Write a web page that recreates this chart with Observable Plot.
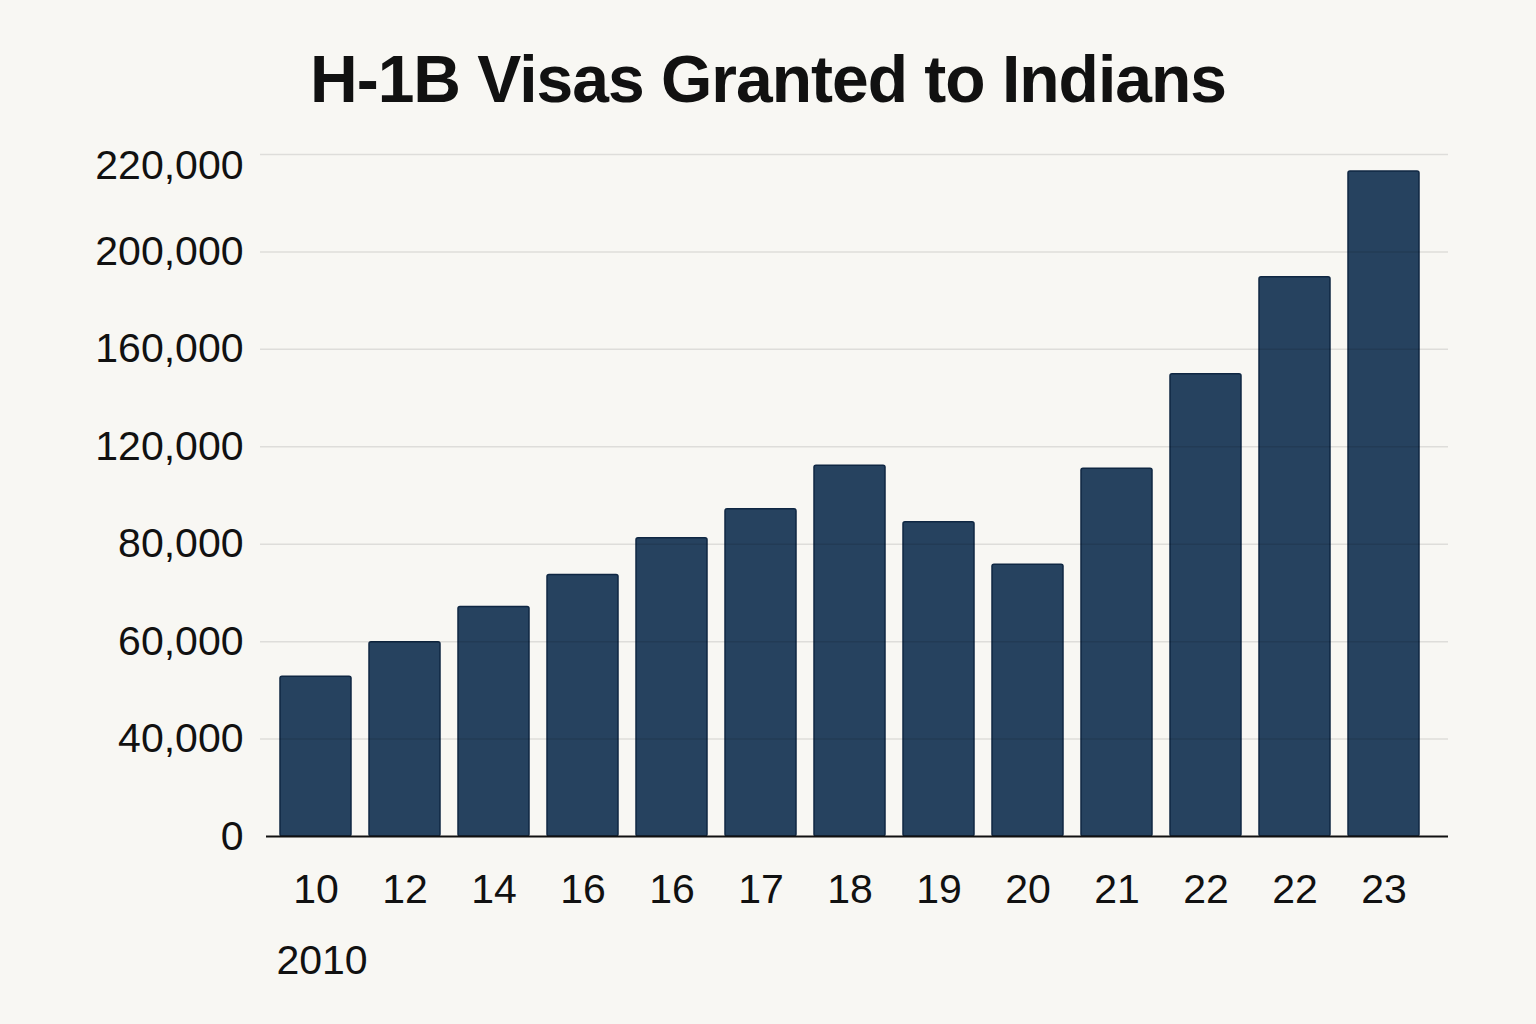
<!DOCTYPE html>
<html>
<head>
<meta charset="utf-8">
<script src="https://cdn.jsdelivr.net/npm/d3@7"></script>
<script src="https://cdn.jsdelivr.net/npm/@observablehq/plot@0.6"></script>
<style>
  html, body { margin: 0; padding: 0; background: #f8f7f3; }
  body { width: 1536px; height: 1024px; overflow: hidden; font-family: "Liberation Sans", Arial, sans-serif; }
  #title { box-sizing: border-box; height: 125px; padding-top: 46px; text-align: center;
           font-size: 66px; line-height: 1; font-weight: 700; letter-spacing: -1px; color: #111; }
  #chart svg { display: block; }
</style>
</head>
<body>
<div id="title">H-1B Visas Granted to Indians</div>
<div id="chart"></div>
<script>
// Data
const xLabels = ["10", "12", "14", "16", "16", "17", "18", "19", "20", "21", "22", "22", "23"];
const values = [52800, 59900, 67100, 73700, 82400, 94400, 112200, 89000, 75800, 111000, 149800, 189600, 216500];
const yTicks = [0, 40000, 60000, 80000, 120000, 160000, 200000, 220000];
const firstYearLabel = ["2010"];

const data = values.map((v, i) => ({i, label: xLabels[i], value: v}));

const W = 1536, H = 899;
const mTop = 29, mBottom = 188, mLeft = 260, mRight = 88;
// evenly spaced tick positions (the reference axis spaces its labels evenly)
const yRange = yTicks.map((_, k) => (H - mBottom) - k * ((H - mBottom - mTop) / (yTicks.length - 1)));

const plot = Plot.plot({
  width: W,
  height: H,
  marginTop: mTop,
  marginBottom: mBottom,
  marginLeft: mLeft,
  marginRight: mRight,
  style: {background: "#f8f7f3", fontFamily: "Liberation Sans, Arial, sans-serif", fontSize: "41px", color: "#111"},
  x: {type: "band", domain: d3.range(xLabels.length), paddingInner: 0.2, paddingOuter: 0.255, align: 0.41},
  y: {type: "linear", domain: yTicks, range: yRange},
  marks: [
    Plot.barY(data, {x: "i", y: "value", fill: "#26425f", stroke: "#0f2743", strokeWidth: 1.5, rx: 2}),
    Plot.ruleY(yTicks.filter(d => d > 0), {stroke: "#000", strokeOpacity: 0.1, strokeWidth: 1.5}),
    Plot.ruleY([0], {stroke: "#111", strokeWidth: 2, insetLeft: 6}),
    Plot.axisY({ticks: yTicks.filter(d => d < 220000), tickFormat: d3.format(","), tickSize: 0, tickPadding: 17, label: null, fill: "#111"}),
    Plot.axisY({ticks: [220000], tickFormat: d3.format(","), tickSize: 0, tickPadding: 17, label: null, dy: 11, fill: "#111"}),
    Plot.axisX({tickFormat: i => xLabels[i], tickSize: 0, tickPadding: 37, label: null, fill: "#111"}),
    Plot.text(firstYearLabel, {x: () => 0, y: () => 0, text: d => d, dx: 6, dy: 124, lineAnchor: "middle", fill: "#111"})
  ]
});
document.getElementById("chart").appendChild(plot);
</script>
</body>
</html>
